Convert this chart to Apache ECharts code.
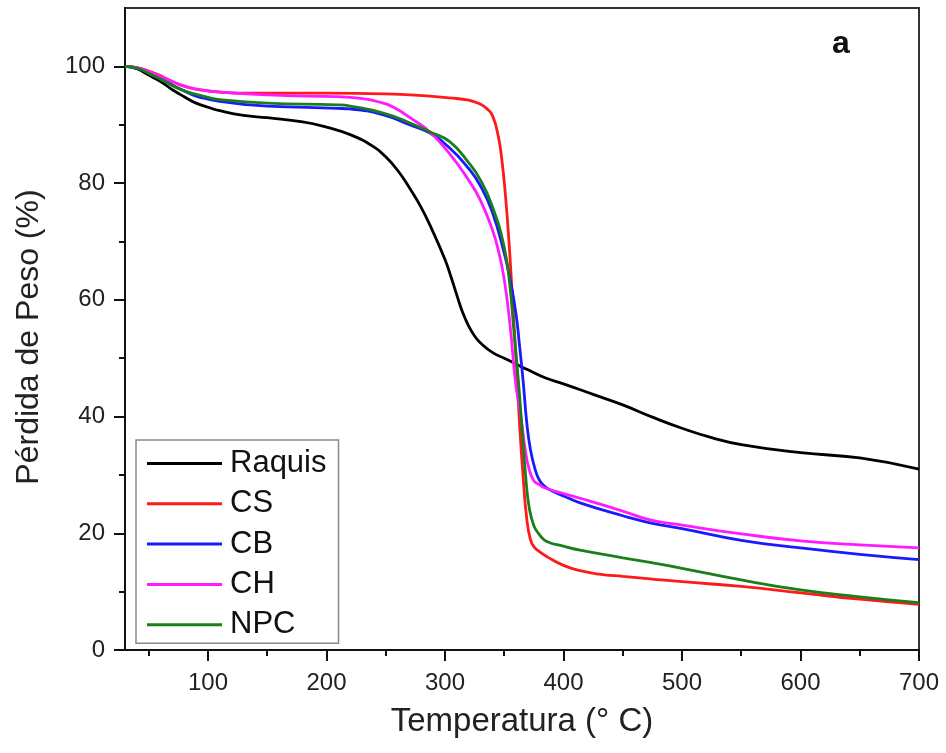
<!DOCTYPE html>
<html><head><meta charset="utf-8">
<script src="https://cdn.jsdelivr.net/npm/echarts@6/dist/echarts.min.js"></script>
<style>html,body{margin:0;padding:0;background:#fff}#c{width:946px;height:753px}</style>
</head><body><div id="c"></div>
<script>
const seriesNames = ['Raquis', 'CS', 'CB', 'CH', 'NPC'];
const xMajorTicks = [100, 200, 300, 400, 500, 600, 700];
const xMinorTicks = [50, 150, 250, 350, 450, 550, 650];
const yMajorTicks = [0, 20, 40, 60, 80, 100];
const yMinorTicks = [10, 30, 50, 70, 90];

const raquisT = [30, 40, 50, 60, 70, 80, 90, 100, 110, 130, 150, 180, 200, 220, 240, 250, 260, 270, 280, 290, 300, 305, 310, 315, 320, 325, 330, 340, 350, 360, 370, 385, 400, 425, 450, 475, 500, 525, 550, 600, 650, 700];
const raquisW = [100, 99.6, 98.5, 97.4, 96.0, 94.8, 93.7, 93.0, 92.4, 91.6, 91.2, 90.5, 89.6, 88.3, 86.2, 84.5, 82.2, 79.2, 75.8, 71.6, 66.9, 64.0, 60.8, 57.8, 55.5, 53.8, 52.6, 51.0, 50.0, 49.0, 48.0, 46.6, 45.6, 43.8, 42.0, 39.9, 38.0, 36.4, 35.2, 33.8, 32.9, 31.0];

const csT = [30, 40, 50, 60, 70, 80, 90, 100, 110, 130, 150, 200, 250, 287, 304, 320, 330, 335, 340, 345, 348, 351, 354, 357, 360, 363, 366, 369, 372, 375, 380, 386, 400, 414, 430, 450, 473, 500, 550, 600, 650, 700];
const csW = [100, 99.8, 99.2, 98.4, 97.4, 96.6, 96.1, 95.8, 95.6, 95.4, 95.4, 95.4, 95.3, 94.9, 94.6, 94.2, 93.5, 92.8, 91.6, 88.0, 84.0, 78.0, 70.0, 60.0, 50.0, 38.5, 29.5, 22.5, 19.0, 17.7, 16.8, 16.0, 14.5, 13.6, 13.0, 12.6, 12.2, 11.7, 10.9, 9.8, 8.7, 7.8];

const cbT = [30, 40, 50, 60, 70, 80, 90, 100, 110, 130, 150, 209, 220, 248, 270, 287, 304, 320, 330, 340, 350, 355, 360, 363, 366, 369, 372, 376, 380, 385, 390, 400, 414, 450, 473, 500, 550, 600, 650, 700];
const cbW = [100, 99.7, 98.9, 97.9, 96.8, 95.8, 94.9, 94.4, 94.0, 93.5, 93.2, 92.8, 92.7, 91.7, 90.0, 88.6, 86.0, 82.5, 79.5, 75.0, 68.0, 63.5, 57.5, 52.0, 46.0, 39.0, 34.5, 31.0, 29.0, 27.9, 27.3, 26.4, 25.2, 23.0, 21.8, 20.8, 18.8, 17.5, 16.4, 15.5];

const chT = [30, 40, 50, 60, 70, 80, 90, 100, 110, 150, 209, 220, 248, 260, 270.5, 287, 304, 320, 330, 340, 345, 350, 355, 359.5, 364, 368, 371, 375, 380, 384, 400, 414, 450, 473, 500, 550, 600, 650, 700];
const chW = [100, 99.8, 99.1, 98.3, 97.4, 96.6, 96.1, 95.8, 95.6, 95.1, 94.8, 94.7, 93.7, 92.6, 91.2, 88.8, 85.0, 80.5, 77.0, 72.0, 68.5, 63.5, 55.5, 46.0, 40.0, 34.0, 31.0, 29.0, 28.3, 27.8, 26.8, 26.0, 23.8, 22.3, 21.4, 19.9, 18.7, 18.0, 17.5];

const npcT = [30, 40, 50, 60, 70, 80, 90, 100, 110, 150, 209, 220, 248, 270.5, 287, 304, 320, 330, 340, 350, 355, 358, 362, 365, 368, 371, 375, 380, 386, 400, 414, 450, 473, 500, 550, 600, 650, 700];
const npcW = [100, 99.7, 98.8, 97.8, 96.7, 95.8, 95.2, 94.7, 94.3, 93.7, 93.4, 93.2, 92.0, 90.3, 88.8, 87.1, 83.5, 80.5, 76.0, 69.0, 62.0, 55.0, 46.0, 38.0, 30.0, 24.5, 21.3, 19.7, 18.6, 17.8, 17.1, 15.8, 15.0, 14.0, 12.0, 10.3, 9.1, 8.1];

const seriesT = [raquisT, csT, cbT, chT, npcT];
const seriesW = [raquisW, csW, cbW, chW, npcW];
const seriesColors = ['#000000', '#ff1a1a', '#1a1aff', '#ff1aff', '#1a7f1a'];

const FONT = "'Liberation Sans', Arial, sans-serif";
const chart = echarts.init(document.getElementById('c'), null, {renderer: 'canvas'});

const axisCommon = {
  type: 'value',
  splitLine: {show: false}
};

chart.setOption({
  animation: false,
  backgroundColor: '#ffffff',
  grid: {left: 125, right: 27, top: 8, bottom: 103, show: true, borderColor: '#333', borderWidth: 2, backgroundColor: 'transparent'},
  legend: {
    data: seriesNames,
    orient: 'vertical',
    left: 136, top: 440,
    icon: 'rect',
    itemWidth: 75, itemHeight: 3,
    itemGap: 9.3,
    padding: [8, 12, 3, 11],
    borderColor: '#888', borderWidth: 1.5,
    backgroundColor: '#fff',
    textStyle: {fontFamily: FONT, fontSize: 31, lineHeight: 30, color: '#111', padding: [0, 0, 0, 3]}
  },
  graphic: [{
    type: 'text', left: 832, top: 28,
    style: {text: 'a', font: 'bold 32px ' + FONT, fill: '#111'}
  }],
  xAxis: [
    Object.assign({}, axisCommon, {
      min: 30, max: 700,
      name: 'Temperatura (° C)', nameLocation: 'middle', nameGap: 55,
      nameTextStyle: {fontFamily: FONT, fontSize: 33, color: '#222'},
      axisLine: {show: true, lineStyle: {color: '#111', width: 2}},
      axisTick: {show: true, customValues: xMajorTicks, length: 11, lineStyle: {color: '#111', width: 2}},
      axisLabel: {customValues: xMajorTicks, margin: 21, fontFamily: FONT, fontSize: 24, color: '#222'}
    }),
    Object.assign({}, axisCommon, {
      min: 30, max: 700, position: 'bottom',
      axisLine: {show: false},
      axisTick: {show: true, customValues: xMinorTicks, length: 6, lineStyle: {color: '#111', width: 2}},
      axisLabel: {show: false}
    })
  ],
  yAxis: [
    Object.assign({}, axisCommon, {
      min: 0, max: 110,
      name: 'Pérdida de Peso (%)', nameLocation: 'middle', nameGap: 80,
      nameTextStyle: {fontFamily: FONT, fontSize: 32, color: '#222', padding: [0, 16, 0, 0]},
      axisLine: {show: true, lineStyle: {color: '#111', width: 2}},
      axisTick: {show: true, customValues: yMajorTicks, length: 11, lineStyle: {color: '#111', width: 2}},
      axisLabel: {customValues: yMajorTicks, margin: 20, fontFamily: FONT, fontSize: 24, color: '#222'}
    }),
    Object.assign({}, axisCommon, {
      min: 0, max: 110, position: 'left',
      axisLine: {show: false},
      axisTick: {show: true, customValues: yMinorTicks, length: 6, lineStyle: {color: '#111', width: 2}},
      axisLabel: {show: false}
    })
  ],
  series: seriesNames.map((name, i) => ({
    name: name,
    type: 'line',
    xAxisIndex: 0, yAxisIndex: 0,
    data: seriesT[i].map((t, j) => [t, seriesW[i][j]]),
    showSymbol: false,
    symbol: 'none',
    smooth: 0.5,
    color: seriesColors[i],
    lineStyle: {color: seriesColors[i], width: 2.8}
  }))
});
</script>
</body></html>
